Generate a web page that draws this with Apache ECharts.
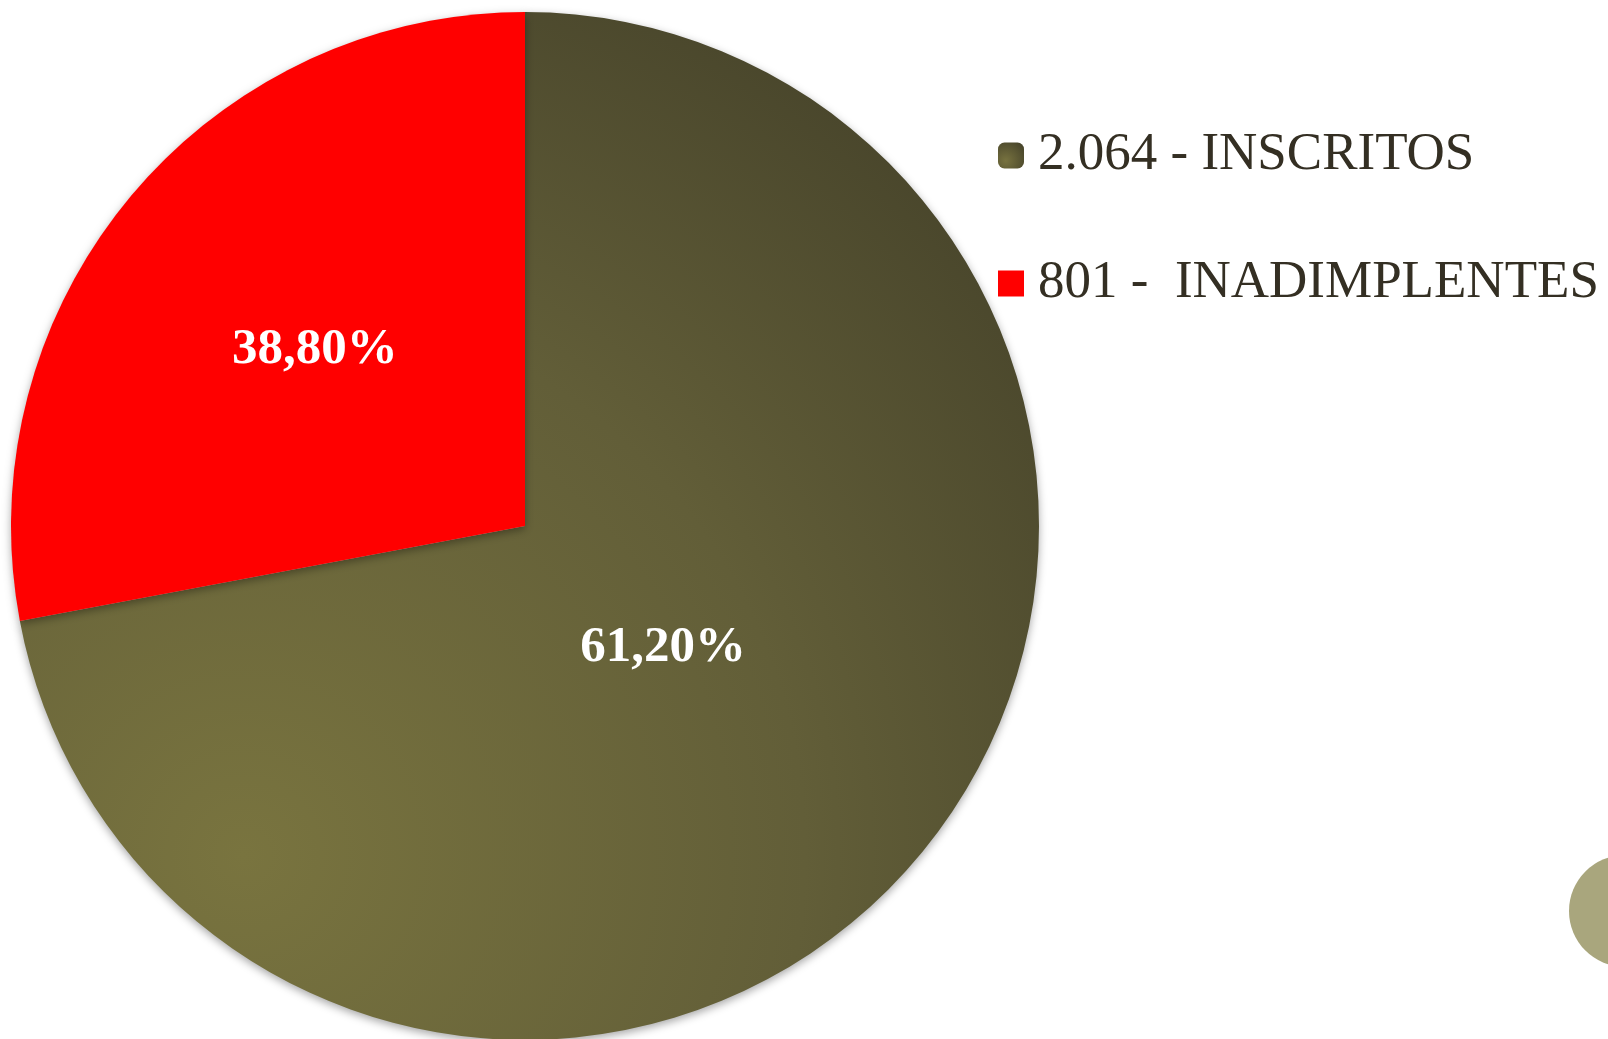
<!DOCTYPE html>
<html><head><meta charset="utf-8">
<style>html,body{margin:0;padding:0;background:#fff;}#c{width:1608px;height:1039px;}</style>
<script src="https://cdn.jsdelivr.net/npm/echarts@6/dist/echarts.min.js"></script>
</head><body><div id="c"></div>
<script>
const categories = ['2.064 - INSCRITOS', '801 -  INADIMPLENTES'];
const values = [2064, 801];
const labelTexts = ['61,20%', '38,80%'];

const oliveGrad = new echarts.graphic.RadialGradient(0.22, 0.82, 1.0, [
  {offset: 0, color: '#79743f'},
  {offset: 0.55, color: '#625e38'},
  {offset: 1, color: '#46432a'}
]);
const legendGrad = new echarts.graphic.RadialGradient(0.3, 0.7, 0.9, [
  {offset: 0, color: '#77723f'},
  {offset: 1, color: '#46432a'}
]);
const colors = [oliveGrad, '#ff0000'];
const icons = ['roundRect', 'rect'];
const offsets = [[-62, -44], [-10, -10]];

const chart = echarts.init(document.getElementById('c'));
chart.setOption({
  animation: false,
  backgroundColor: '#ffffff',
  legend: {
    orient: 'vertical',
    left: 998,
    top: 129,
    padding: 0,
    itemWidth: 26,
    itemHeight: 26,
    itemGap: 75,
    selectedMode: false,
    textStyle: {fontFamily: 'Liberation Serif', fontSize: 53, color: '#342f23', padding: [0, 0, 0, 9]},
    data: categories.map((c, i) => ({name: c, icon: icons[i], itemStyle: i === 0 ? {color: legendGrad} : {}}))
  },
  graphic: [{
    type: 'circle', shape: {cx: 1625, cy: 911, r: 56}, style: {fill: '#a9a67d'}, silent: true
  }],
  series: [{
    type: 'pie',
    center: [525, 526],
    radius: 514,
    startAngle: 90,
    clockwise: true,
    legendHoverLink: false,
    emphasis: {disabled: true},
    itemStyle: {shadowBlur: 8, shadowColor: 'rgba(0,0,0,0.35)', shadowOffsetY: 3},
    label: {
      show: true,
      position: 'inside',
      fontFamily: 'Liberation Serif',
      fontWeight: 'bold',
      fontSize: 51,
      color: '#ffffff'
    },
    labelLine: {show: false},
    data: categories.map((c, i) => ({
      name: c,
      value: values[i],
      itemStyle: {color: colors[i]},
      label: {formatter: labelTexts[i], offset: offsets[i]}
    }))
  }]
});
</script></body></html>
